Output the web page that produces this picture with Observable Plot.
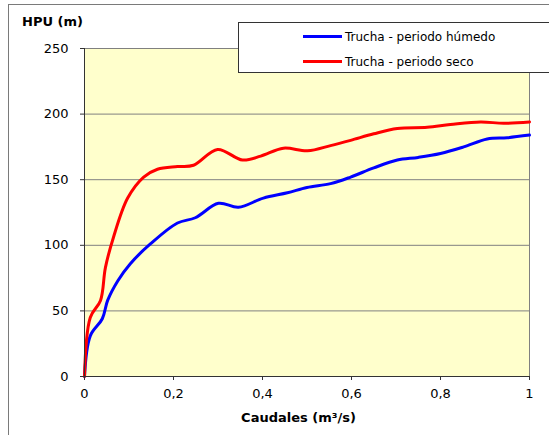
<!DOCTYPE html>
<html>
<head>
<meta charset="utf-8">
<script src="https://cdn.jsdelivr.net/npm/d3@7"></script>
<script src="https://cdn.jsdelivr.net/npm/@observablehq/plot@0.6"></script>
<style>
  html, body { margin: 0; padding: 0; background: #fff; }
  #wrap { position: relative; width: 549px; height: 435px; overflow: hidden; font-family: Tahoma, "DejaVu Sans", Verdana, sans-serif; }
  #border { position: absolute; left: 8px; top: 4px; width: 600px; height: 500px; border: 1px solid #7a7a7a; box-sizing: border-box; pointer-events: none; }
  #legend { position: absolute; left: 238px; top: 22px; width: 400px; height: 51px; background: #fff; border: 1px solid #333; box-sizing: border-box; font-size: 12px; color: #000; }
  .li { position: absolute; left: 64px; height: 14px; line-height: 14px; }
  .sw { display: inline-block; width: 39px; height: 3px; vertical-align: middle; margin-right: 3px; position: relative; top: -1px; }
  #ylab { position: absolute; left: 22px; top: 14px; font-weight: bold; font-size: 13px; }
  #xlab { position: absolute; left: 0; width: 597px; text-align: center; top: 410px; font-weight: bold; font-size: 13px; }
</style>
</head>
<body>
<div id="wrap">
  <div id="chart"></div>
  <div id="border"></div>
  <div id="ylab">HPU (m)</div>
  <div id="xlab">Caudales (m³/s)</div>
  <div id="legend"></div>
</div>
<script>
const seriesNames = ["Trucha - periodo húmedo", "Trucha - periodo seco"];
const seriesColors = ["#0000ff", "#ff0000"];

const caudalHumedo = [0, 0.013, 0.04, 0.052, 0.075, 0.103, 0.148, 0.209, 0.249, 0.301, 0.346, 0.402, 0.456, 0.5, 0.553, 0.598, 0.65, 0.703, 0.75, 0.8, 0.852, 0.905, 0.95, 1.0];
const hpuHumedo    = [0, 31, 44, 58, 73, 86, 101, 117, 121, 132, 129, 136, 140, 144, 147, 152, 159, 165, 167, 170, 175, 181, 182, 184];

const caudalSeco = [0, 0.013, 0.036, 0.047, 0.065, 0.097, 0.133, 0.164, 0.209, 0.245, 0.299, 0.355, 0.396, 0.447, 0.501, 0.553, 0.598, 0.65, 0.703, 0.77, 0.822, 0.89, 0.942, 1.0];
const hpuSeco    = [0, 45, 58, 83, 106, 136, 152, 158, 160, 161, 173, 165, 168, 174, 172, 176, 180, 185, 189, 190, 192, 194, 193, 194];

const xTicks = [0, 0.2, 0.4, 0.6, 0.8, 1];
const yTicks = [0, 50, 100, 150, 200, 250];

const data = [
  ...caudalHumedo.map((q, i) => ({q, h: hpuHumedo[i], s: seriesNames[0]})),
  ...caudalSeco.map((q, i) => ({q, h: hpuSeco[i], s: seriesNames[1]}))
];

const chart = Plot.plot({
  width: 549,
  height: 435,
  marginLeft: 84,
  marginRight: 20,
  marginTop: 48,
  marginBottom: 59,
  style: { background: "transparent", fontFamily: "Tahoma, 'DejaVu Sans', Verdana, sans-serif", fontSize: "12px", color: "#000" },
  x: { domain: [0, 1] },
  y: { domain: [0, 250] },
  color: { domain: seriesNames, range: seriesColors },
  marks: [
    Plot.frame({ fill: "#ffffcc", stroke: "#808080" }),
    Plot.gridY(yTicks.filter(d => d > 0 && d < 250), { stroke: "#808080", strokeOpacity: 1 }),
    Plot.line(data, { x: "q", y: "h", z: "s", stroke: "s", strokeWidth: 3, curve: "catmull-rom" }),
    Plot.ruleX([0], { stroke: "#333" }),
    Plot.ruleY([0], { stroke: "#333" }),
    Plot.axisY(yTicks, { tickSize: 4, tickPadding: 12, label: null, fontSize: 13, stroke: "#333" }),
    Plot.axisX(xTicks, { tickSize: 4, tickPadding: 8, label: null, fontSize: 13, stroke: "#333",
      tickFormat: d => String(d).replace(".", ",") })
  ]
});
document.getElementById("chart").appendChild(chart);

const leg = document.getElementById("legend");
seriesNames.forEach((n, i) => {
  const d = document.createElement("div");
  d.className = "li";
  d.style.top = (7 + i * 25) + "px";
  d.innerHTML = `<span class="sw" style="background:${seriesColors[i]}"></span>${n}`;
  leg.appendChild(d);
});
</script>
</body>
</html>
